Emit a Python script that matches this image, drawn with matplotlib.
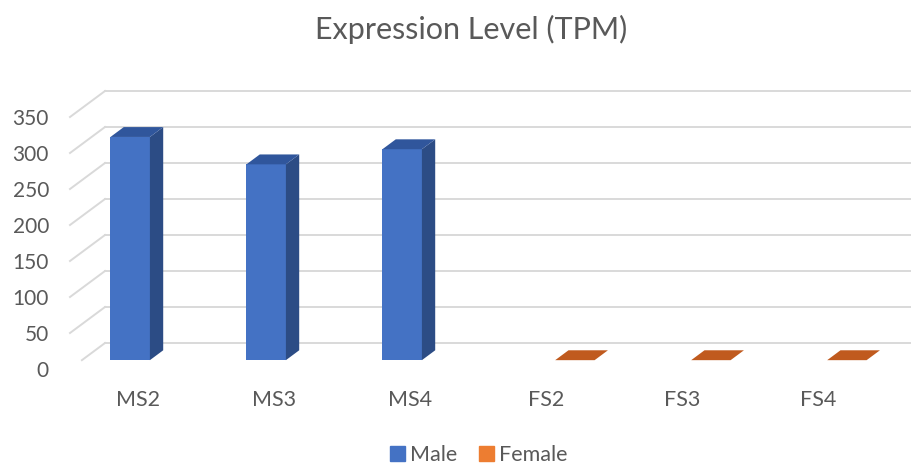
import matplotlib.pyplot as plt
from matplotlib.patches import Patch, Polygon

# values read per sample
categories = ['MS2', 'MS3', 'MS4', 'FS2', 'FS3', 'FS4']
male = [310, 272, 293, 0, 0, 0]
female = [0, 0, 0, 0, 0, 0]
yticks = [0, 50, 100, 150, 200, 250, 300, 350]

plt.rcParams['font.family'] = ['Lato', 'DejaVu Sans']
TXT = '#595959'
GRID = '#D9D9D9'

# fake 3d: a point at depth d (0 front .. 1 back) is shifted by d*(DX, DY)
DX, DY = 0.2574, 36.1
D_FRONT, D_BACK = 0.34, 0.72
W = 0.29

fig = plt.figure(figsize=(9.12, 4.67), dpi=100)
ax = fig.add_axes([0, 0, 1, 1])
ax.set_xlim(-138 / 136, (912 - 138) / 136)
ax.set_ylim((369 - 467) / 0.72, 369 / 0.72)
ax.axis('off')

# back wall gridlines + side wall lines
wall_x = -0.5
for v in yticks:
    ax.plot([wall_x + DX, ax.get_xlim()[1]], [v + DY, v + DY], color=GRID, lw=1.4, zorder=1)
    d0 = D_FRONT if v == 0 else 0.0
    ax.plot([wall_x + d0 * DX, wall_x + DX], [v + d0 * DY, v + DY], color=GRID, lw=1.4, zorder=1)
    ax.text(-0.655, v, str(v), ha='right', va='center_baseline', fontsize=15, color=TXT)


def bar3d(x0, h, front, side, top):
    fx, fy = D_FRONT * DX, D_FRONT * DY
    bx, by = D_BACK * DX, D_BACK * DY
    ax.bar(x0 + fx, h, width=W, bottom=fy, align='edge', color=front, lw=0, zorder=3)
    ax.add_patch(Polygon([(x0 + W + fx, fy), (x0 + W + bx, by),
                          (x0 + W + bx, by + h), (x0 + W + fx, fy + h)],
                         closed=True, facecolor=side, lw=0, zorder=3))
    ax.add_patch(Polygon([(x0 + fx, fy + h), (x0 + W + fx, fy + h),
                          (x0 + W + bx, by + h), (x0 + bx, by + h)],
                         closed=True, facecolor=top, lw=0, zorder=3))


for i, name in enumerate(categories):
    if male[i] > 0:
        bar3d(i - W, male[i], '#4472C4', '#2C4C85', '#30569C')
    if i >= 3:
        bar3d(i - 0.02, female[i], '#ED7D31', '#B0561C', '#C05A1E')
    ax.text(i, -51.4, name, ha='center', va='baseline', fontsize=15.5, color=TXT)

fig.text(471 / 912, 1 - 38.5 / 467, 'Expression Level (TPM)', ha='center',
         va='baseline', fontsize=22, color=TXT)

handles = [Patch(color='#4472C4', label='Male'), Patch(color='#ED7D31', label='Female')]
fig.legend(handles=handles, loc='center', bbox_to_anchor=(479 / 912, 1 - 455 / 467),
           ncol=2, frameon=False, fontsize=15.5, handlelength=0.68, handleheight=0.68,
           handletextpad=0.25, columnspacing=1.0, labelcolor=TXT)

fig.savefig('out.png', dpi=100)
